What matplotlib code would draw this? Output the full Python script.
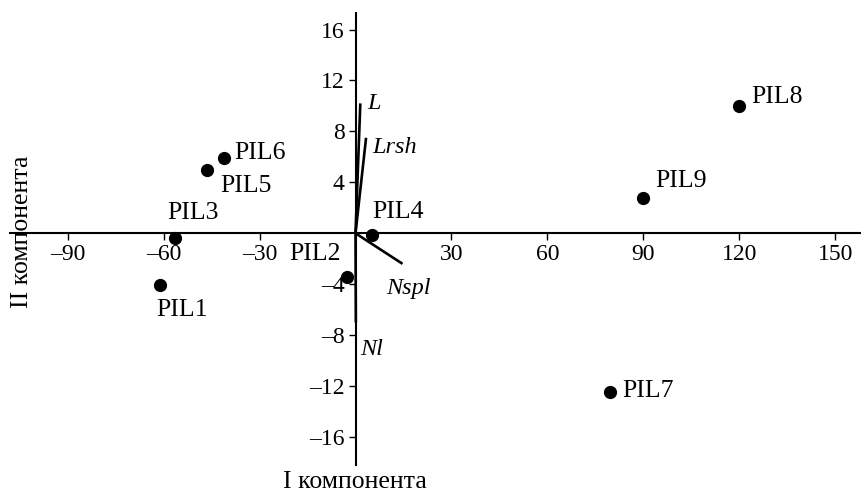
import matplotlib
matplotlib.use("Agg")
import matplotlib.pyplot as plt

plt.rcParams["font.family"] = ["Liberation Serif", "DejaVu Serif"]

# Sample scores on the first two principal components
samples = ["PIL1", "PIL2", "PIL3", "PIL4", "PIL5", "PIL6", "PIL7", "PIL8", "PIL9"]
pc1 = [-61.0, -2.8, -56.5, 5.0, -46.5, -41.0, 79.5, 120.0, 90.0]
pc2 = [-4.1, -3.4, -0.4, -0.1, 5.0, 5.9, -12.5, 10.0, 2.8]

# Trait loading vectors
traits = ["L", "Lrsh", "Nspl", "Nl"]
load1 = [1.5, 3.3, 14.7, 0.1]
load2 = [10.2, 7.5, -2.4, -7.0]

x_ticks = [-90, -60, -30, 30, 60, 90, 120, 150]
y_ticks = [-16, -12, -8, -4, 4, 8, 12, 16]

# label offsets in pixels (dx, dy)
sample_offsets = {
    "PIL1": (-4, -25), "PIL2": (-57, 23), "PIL3": (-7, 25), "PIL4": (1, 23),
    "PIL5": (14, -16), "PIL6": (10, 5), "PIL7": (12, 1), "PIL8": (12, 9),
    "PIL9": (12, 17),
}
trait_offsets = {"L": (7, 0), "Lrsh": (6, -10), "Nspl": (-16, -25), "Nl": (4, -27)}

fig = plt.figure(figsize=(8.61, 4.94), dpi=100)
ax = fig.add_axes([10 / 861, 1 - 465 / 494, 1 - 10 / 861, (465 - 13) / 494])
ax.set_xlim(-108, 158)
ax.set_ylim(-18.2, 17.3)

for side in ("top", "right"):
    ax.spines[side].set_visible(False)
ax.spines["left"].set_position(("data", 0))
ax.spines["bottom"].set_position(("data", 0))
for side in ("left", "bottom"):
    ax.spines[side].set_linewidth(1.5)

ax.set_xticks(x_ticks)
ax.set_yticks(y_ticks)
ax.set_xticklabels([str(v).replace("-", "\u2013") for v in x_ticks])
ax.set_yticklabels([str(v).replace("-", "\u2013") for v in y_ticks])
ax.tick_params(axis="both", direction="out", length=5, width=1.0, labelsize=17, pad=3)

# trait vectors
for name, dx, dy in zip(traits, load1, load2):
    ax.plot([0, dx], [0, dy], color="black", lw=1.9, solid_capstyle="butt", zorder=3)
    ox, oy = trait_offsets[name]
    ax.annotate(name, (dx, dy), xytext=(ox, oy), textcoords="offset pixels",
                ha="left", va="center", fontsize=17.5, style="italic")

# sample points
ax.plot(pc1, pc2, "o", color="black", markersize=8.5, zorder=4)
for name, x, y in zip(samples, pc1, pc2):
    ox, oy = sample_offsets[name]
    ax.annotate(name, (x, y), xytext=(ox, oy), textcoords="offset pixels",
                ha="left", va="center", fontsize=18.5)

fig.text(355 / 861, 1 - 482 / 494, "I компонента", ha="center", va="center", fontsize=18.5)
fig.text(22 / 861, 1 - 232 / 494, "II компонента", ha="center", va="center",
         rotation=90, fontsize=18.5)

fig.savefig("out.png", dpi=100)
